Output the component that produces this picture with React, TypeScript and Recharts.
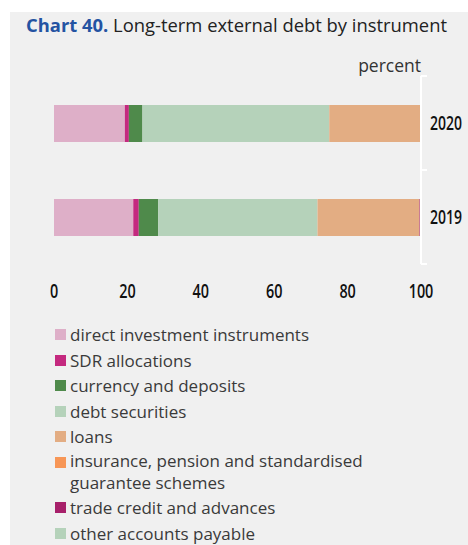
import { BarChart, Bar, XAxis, YAxis } from "recharts";

const years = ["2020", "2019"];
const directInvestment = [19.3, 21.6];
const sdrAllocations = [1.1, 1.5];
const currencyDeposits = [3.7, 5.3];
const debtSecurities = [50.9, 43.4];
const loans = [24.8, 27.8];
const insurancePension = [0, 0];
const tradeCredit = [0.2, 0.4];
const otherPayable = [0, 0];
const xTicks = [0, 20, 40, 60, 80, 100];

const series = [
  { key: "direct", name: "direct investment instruments", color: "#deafc8", values: directInvestment },
  { key: "sdr", name: "SDR allocations", color: "#c4297f", values: sdrAllocations },
  { key: "currency", name: "currency and deposits", color: "#4f8a4b", values: currencyDeposits },
  { key: "debt", name: "debt securities", color: "#b5d2ba", values: debtSecurities },
  { key: "loans", name: "loans", color: "#e3ad83", values: loans },
  { key: "insurance", name: "insurance, pension and standardised guarantee schemes", color: "#f79656", values: insurancePension },
  { key: "trade", name: "trade credit and advances", color: "#a7206a", values: tradeCredit },
  { key: "other", name: "other accounts payable", color: "#b5d2ba", values: otherPayable },
];

const data = years.map((year, i) => {
  const row: Record<string, string | number> = { year };
  series.forEach((s) => { row[s.key] = s.values[i]; });
  return row;
});

const sans = "'Open Sans', 'Noto Sans', sans-serif";
const tickFont = "'Open Sans', sans-serif";

// no condensed face installed, so squeeze the glyphs horizontally
function XTick(props: any) {
  const { x, y, payload } = props;
  return (
    <g transform={`translate(${x},${y}) scale(0.72,1)`}>
      <text x={0} y={0} dy="0.71em" textAnchor="middle" fill="#111" fontSize={20} fontWeight={600} fontFamily={tickFont}>
        {payload.value}
      </text>
    </g>
  );
}

// category label plus white tick marks at the band edges
function YearTick(props: any) {
  const { x, y, payload } = props;
  const half = payload.offset || 47;
  return (
    <g>
      <line x1={x - 9} x2={x - 3} y1={y - half} y2={y - half} stroke="#fff" strokeWidth={2} />
      <line x1={x - 9} x2={x - 3} y1={y + half} y2={y + half} stroke="#fff" strokeWidth={2} />
      <g transform={`translate(${x},${y}) scale(0.7,1)`}>
        <text x={0} y={0} dy="0.35em" fill="#111" fontSize={20} fontWeight={600} fontFamily={tickFont}>
          {payload.value}
        </text>
      </g>
    </g>
  );
}

export default function App() {
  return (
    <div style={{ position: "absolute", left: 0, top: 0, width: 468, height: 545, background: "#fff", overflow: "hidden" }}>
      <div style={{ position: "absolute", left: 10, top: 12, right: 0, bottom: 0, background: "#f0f0f0" }} />
      <div style={{ position: "absolute", left: 26, top: 12, fontFamily: sans, fontSize: 18.4, color: "#222", whiteSpace: "nowrap" }}>
        <span style={{ color: "#2453a2", fontWeight: 700 }}>Chart 40.</span> Long-term external debt by instrument
      </div>
      <div style={{ position: "absolute", right: 47, top: 53, fontFamily: sans, fontSize: 17.5, color: "#333" }}>percent</div>
      <div style={{ position: "absolute", left: 0, top: 0 }}>
        <BarChart
          width={468}
          height={310}
          data={data}
          layout="vertical"
          margin={{ top: 76, right: 0, left: 54, bottom: 0 }}
          barSize={37}
        >
          <XAxis
            type="number"
            domain={[0, 100]}
            ticks={xTicks}
            axisLine={false}
            tickLine={false}
            tickMargin={14}
            height={46}
            tick={<XTick />}
          />
          <YAxis
            type="category"
            dataKey="year"
            orientation="right"
            width={47}
            axisLine={{ stroke: "#fff", strokeWidth: 2 }}
            tickLine={false}
            tickSize={6}
            tickMargin={3}
            tick={<YearTick />}
          />
          {series.map((s) => (
            <Bar key={s.key} dataKey={s.key} name={s.name} stackId="a" fill={s.color} isAnimationActive={false} />
          ))}
        </BarChart>
      </div>
      <div style={{ position: "absolute", left: 55, top: 322, fontFamily: sans, fontSize: 17, color: "#3a3a3a", lineHeight: "25.5px" }}>
        {series.map((s) => (
          <div key={s.key} style={{ position: "relative", paddingLeft: 15, width: 330 }}>
            <span style={{ position: "absolute", left: 0, top: 7, width: 11, height: 11, background: s.color }} />
            <span style={{ lineHeight: s.key === "insurance" ? "22px" : undefined, display: "inline-block" }}>{s.name}</span>
          </div>
        ))}
      </div>
    </div>
  );
}
